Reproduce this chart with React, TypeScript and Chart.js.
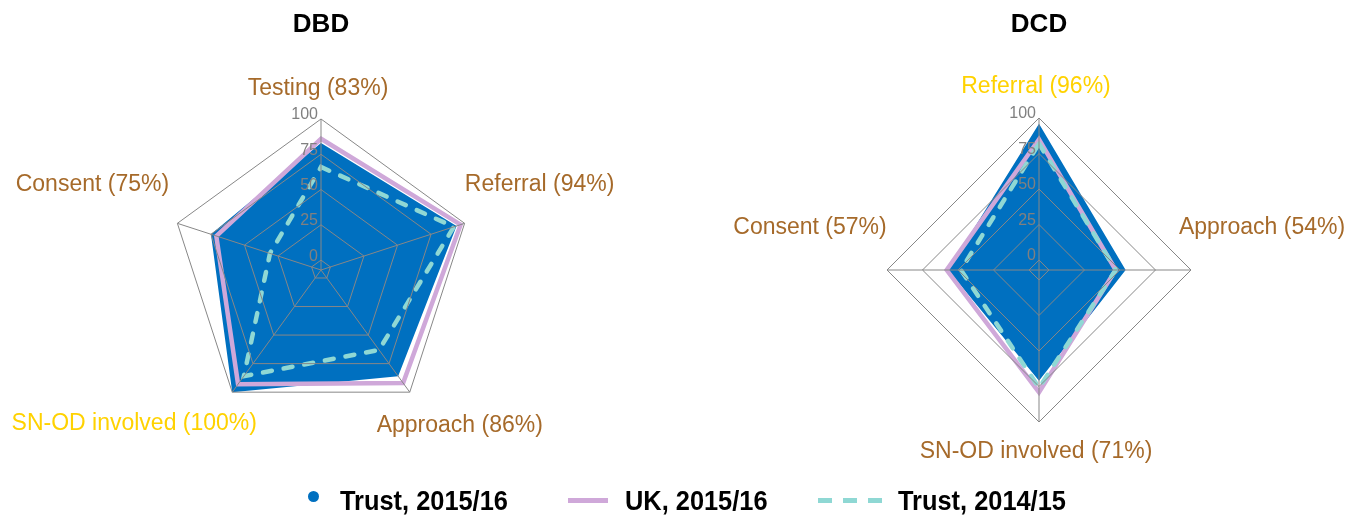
import React, { useEffect, useRef } from "react";
import { Chart, registerables } from "chart.js";

Chart.register(...registerables);

// ---------- data ----------
const SERIES_NAMES = ["Trust, 2015/16", "UK, 2015/16", "Trust, 2014/15"];

const DBD_CATEGORIES = ["Testing", "Referral", "Approach", "SN-OD involved", "Consent"];
const DBD_TRUST_1516 = [83, 94, 86, 100, 75];
const DBD_UK_1516 = [86, 97, 92, 93, 71];
const DBD_TRUST_1415 = [66, 92, 63, 86, 31];

const DCD_CATEGORIES = ["Referral", "Approach", "SN-OD involved", "Consent"];
const DCD_TRUST_1516 = [96, 54, 71, 57];
const DCD_UK_1516 = [85, 47, 79, 58];
const DCD_TRUST_1415 = [82, 47, 76, 48];

const TICK_VALUES = [0, 25, 50, 75, 100];
const SCALE_MIN = -7;
const SCALE_MAX = 100;

// ---------- style ----------
const FONT = '"Liberation Sans", Arial, sans-serif';
const BLUE = "#0070c0";
const PURPLE = "#cfa8d9";
const CYAN = "#8fd8d4";
const GRID = "#878787";
const BROWN = "#a66a2a";
const GOLD = "#ffd200";
const TICK_GRAY = "#808080";

// label centre offsets from the 100% vertex (style only)
const DBD_LABEL_OFFSETS = [[-3, -30], [75, -39], [50, 33], [-98, 31], [-85, -39]];
const DCD_LABEL_OFFSETS = [[-3, -31], [71, -42], [-3, 30], [-77, -42]];

function makeTextPlugin(categories: string[], main: number[], offsets: number[][]) {
  return {
    id: "radarText",
    afterDraw(chart: any) {
      const scale = chart.scales.r;
      const ctx = chart.ctx;
      ctx.save();
      // tick labels
      ctx.font = `16px ${FONT}`;
      ctx.fillStyle = TICK_GRAY;
      ctx.textAlign = "right";
      ctx.textBaseline = "middle";
      TICK_VALUES.forEach((v) => {
        const r = scale.getDistanceFromCenterForValue(v);
        ctx.fillText(String(v), scale.xCenter - 3, scale.yCenter - r - 4);
      });
      // point labels
      const maxVal = Math.max(...main);
      ctx.font = `23px ${FONT}`;
      ctx.textAlign = "center";
      categories.forEach((c, i) => {
        const p = scale.getPointPositionForValue(i, SCALE_MAX);
        ctx.fillStyle = main[i] === maxVal ? GOLD : BROWN;
        ctx.fillText(`${c} (${main[i]}%)`, p.x + offsets[i][0], p.y + offsets[i][1]);
      });
      ctx.restore();
    },
  };
}

function makeConfig(
  title: string,
  categories: string[],
  trust1516: number[],
  uk1516: number[],
  trust1415: number[],
  offsets: number[][],
  pad: { left: number; right: number; bottom: number; titleTop: number; titleBottom: number }
): any {
  return {
    type: "radar",
    data: {
      labels: categories,
      datasets: [
        {
          label: SERIES_NAMES[0],
          data: trust1516,
          backgroundColor: BLUE,
          borderColor: BLUE,
          borderWidth: 0,
          fill: "start",
          pointRadius: 0,
          order: 3,
        },
        {
          label: SERIES_NAMES[1],
          data: uk1516,
          borderColor: PURPLE,
          borderWidth: 4.5,
          fill: false,
          pointRadius: 0,
          order: 2,
        },
        {
          label: SERIES_NAMES[2],
          data: trust1415,
          borderColor: CYAN,
          borderWidth: 4.5,
          borderDash: [9, 12],
          borderCapStyle: "round",
          fill: false,
          pointRadius: 0,
          order: 1,
        },
      ],
    },
    options: {
      responsive: false,
      animation: false,
      layout: { padding: { left: pad.left, right: pad.right, top: 0, bottom: pad.bottom } },
      plugins: {
        legend: { display: false },
        tooltip: { enabled: false },
        title: {
          display: true,
          text: title,
          color: "#000",
          font: { family: FONT, size: 26, weight: "bold" },
          padding: { top: pad.titleTop, bottom: pad.titleBottom },
        },
      },
      scales: {
        r: {
          min: SCALE_MIN,
          max: SCALE_MAX,
          ticks: { display: false, stepSize: 25 },
          grid: { color: GRID, lineWidth: 1, z: 1 },
          angleLines: { color: GRID, lineWidth: 1 },
          pointLabels: { display: false },
        },
      },
    },
    plugins: [makeTextPlugin(categories, trust1516, offsets)],
  };
}

export default function App() {
  const dbdRef = useRef<HTMLCanvasElement>(null);
  const dcdRef = useRef<HTMLCanvasElement>(null);

  useEffect(() => {
    const c1 = new Chart(
      dbdRef.current as HTMLCanvasElement,
      makeConfig("DBD", DBD_CATEGORIES, DBD_TRUST_1516, DBD_UK_1516, DBD_TRUST_1415, DBD_LABEL_OFFSETS, {
        left: 170,
        right: 170,
        bottom: 95,
        titleTop: 9.4,
        titleBottom: 78.4,
      })
    );
    const c2 = new Chart(
      dcdRef.current as HTMLCanvasElement,
      makeConfig("DCD", DCD_CATEGORIES, DCD_TRUST_1516, DCD_UK_1516, DCD_TRUST_1415, DCD_LABEL_OFFSETS, {
        left: 173,
        right: 173,
        bottom: 94,
        titleTop: 9.4,
        titleBottom: 77.4,
      })
    );
    return () => {
      c1.destroy();
      c2.destroy();
    };
  }, []);

  const textStyle = (left: number): React.CSSProperties => ({
    position: "absolute",
    left,
    top: 488,
    fontFamily: FONT,
    fontWeight: "bold",
    fontSize: 27,
    lineHeight: "27px",
    whiteSpace: "nowrap",
    color: "#000",
    transform: "scaleX(0.94)",
    transformOrigin: "left center",
  });

  return (
    <div style={{ position: "absolute", left: 0, top: 0, width: 1367, height: 516, background: "#fff", overflow: "hidden" }}>
      <canvas ref={dbdRef} width={642} height={516} style={{ position: "absolute", left: 0, top: 0, width: 642, height: 516 }} />
      <canvas ref={dcdRef} width={650} height={516} style={{ position: "absolute", left: 714, top: 0, width: 650, height: 516 }} />
      {/* legend */}
      <div style={{ position: "absolute", left: 308, top: 491, width: 11, height: 11, borderRadius: "50%", background: BLUE }} />
      <span style={textStyle(340)}>{SERIES_NAMES[0]}</span>
      <div style={{ position: "absolute", left: 568, top: 497.5, width: 40, height: 5, background: PURPLE }} />
      <span style={textStyle(625)}>{SERIES_NAMES[1]}</span>
      {[818, 843, 868].map((x) => (
        <div key={x} style={{ position: "absolute", left: x, top: 497.5, width: 14, height: 5, background: CYAN }} />
      ))}
      <span style={textStyle(898)}>{SERIES_NAMES[2]}</span>
    </div>
  );
}
